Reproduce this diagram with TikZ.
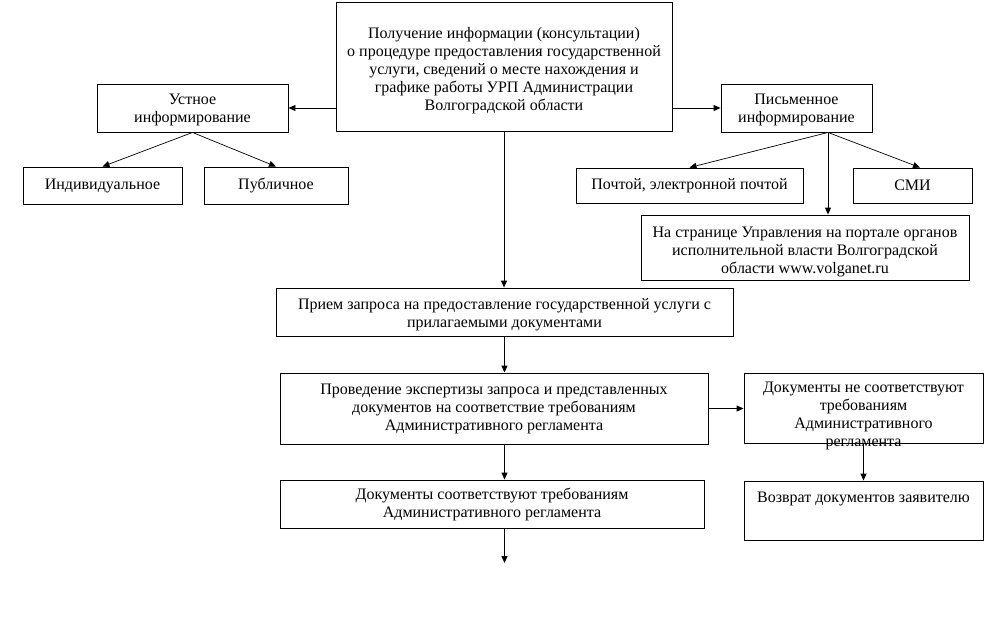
\documentclass[tikz,border=0pt]{standalone}
\usepackage{fontspec}
\setmainfont{Liberation Serif}
\usetikzlibrary{arrows.meta}
\begin{document}
\begin{tikzpicture}[x=1pt,y=-1pt,
  box/.style={draw, line width=0.9pt, inner sep=0pt, align=center,
    font=\fontsize{16}{18}\selectfont},
  tip/.style={-{Triangle[length=7pt,width=6pt]}},
  arr/.style={tip, line width=0.9pt},
  ln/.style={tip, line width=0.7pt}]
\useasboundingbox (0,0) rectangle (985,638);
\fill[white] (0,0) rectangle (985,638);

\node[box, minimum width=336pt, minimum height=129pt] (top) at (504,66.5)
  {\parbox[c][129pt][c]{330pt}{\centering\vspace*{8pt}Получение информации (консультации)\\о процедуре предоставления государственной\\услуги, сведений о месте нахождения и\\графике работы УРП Администрации\\Волгоградской области}};
\node[box, minimum width=191pt, minimum height=48pt] (ustn) at (192.5,108)
  {\parbox[c][48pt][c]{185pt}{\centering\vspace*{3pt}Устное\\информирование}};
\node[box, minimum width=159pt, minimum height=37pt] (ind) at (102.5,185.5)
  {Индивидуальное};
\node[box, minimum width=144pt, minimum height=37pt] (pub) at (276,185.5)
  {Публичное};
\node[box, minimum width=151pt, minimum height=48pt] (pism) at (796.5,108)
  {\parbox[c][48pt][c]{145pt}{\centering\vspace*{3pt}Письменное\\информирование}};
\node[box, minimum width=227pt, minimum height=35pt] (post) at (689.5,185.5)
  {Почтой, электронной почтой};
\node[box, minimum width=119pt, minimum height=35pt] (smi) at (912.5,185.5)
  {СМИ};
\node[box, minimum width=328pt, minimum height=65pt] (str) at (805,247.5)
  {\parbox[c][65pt][c]{322pt}{\centering\vspace*{8pt}На странице Управления на портале органов\\исполнительной власти Волгоградской\\области www.volganet.ru}};
\node[box, minimum width=457pt, minimum height=48pt] (priem) at (504.5,312)
  {\parbox[c][48pt][c]{450pt}{\centering\vspace*{5pt}Прием запроса на предоставление государственной услуги с\\прилагаемыми документами}};
\node[box, minimum width=428pt, minimum height=71pt] (prov) at (494,408.5)
  {Проведение экспертизы запроса и представленных\\документов на соответствие требованиям\\Административного регламента};
\node[box, minimum width=424pt, minimum height=48pt] (sootv) at (492,504)
  {Документы соответствуют требованиям\\Административного регламента};
\node[box, minimum width=239pt, minimum height=70pt] (ne) at (863.5,408)
  {\parbox[c][70pt][t]{235pt}{\centering\vspace*{9pt}Документы не соответствуют\\требованиям\\Административного\\регламента}};
\node[box, minimum width=239pt, minimum height=59pt] (vozv) at (863.5,510.5)
  {\parbox[c][59pt][t]{235pt}{\centering\vspace*{11pt}Возврат документов заявителю}};
\coordinate (fin) at (504.5,563);

\draw[arr] (top.west |- ustn.east) -- (ustn.east);
\draw[arr] (top.east |- pism.west) -- (pism.west);
\draw[ln] (ustn.south) -- (ind.north);
\draw[ln] (ustn.south) -- (pub.north);
\coordinate (pj) at ([xshift=31.5pt]pism.south);
\draw[ln] (pj) -- (post.north);
\draw[ln] (pj) -- ([xshift=7.5pt]smi.north);
\draw[arr] (pj) -- (pj |- str.north);
\draw[arr] (top.south) -- (top.south |- priem.north);
\draw[arr] (priem.south) -- (priem.south |- prov.north);
\draw[arr] (priem.south |- prov.south) -- (priem.south |- sootv.north);
\draw[arr] (priem.south |- sootv.south) -- (fin);
\draw[arr] (prov.east) -- (prov.east -| ne.west);
\draw[arr] (ne.south) -- (vozv.north);
\end{tikzpicture}
\end{document}
